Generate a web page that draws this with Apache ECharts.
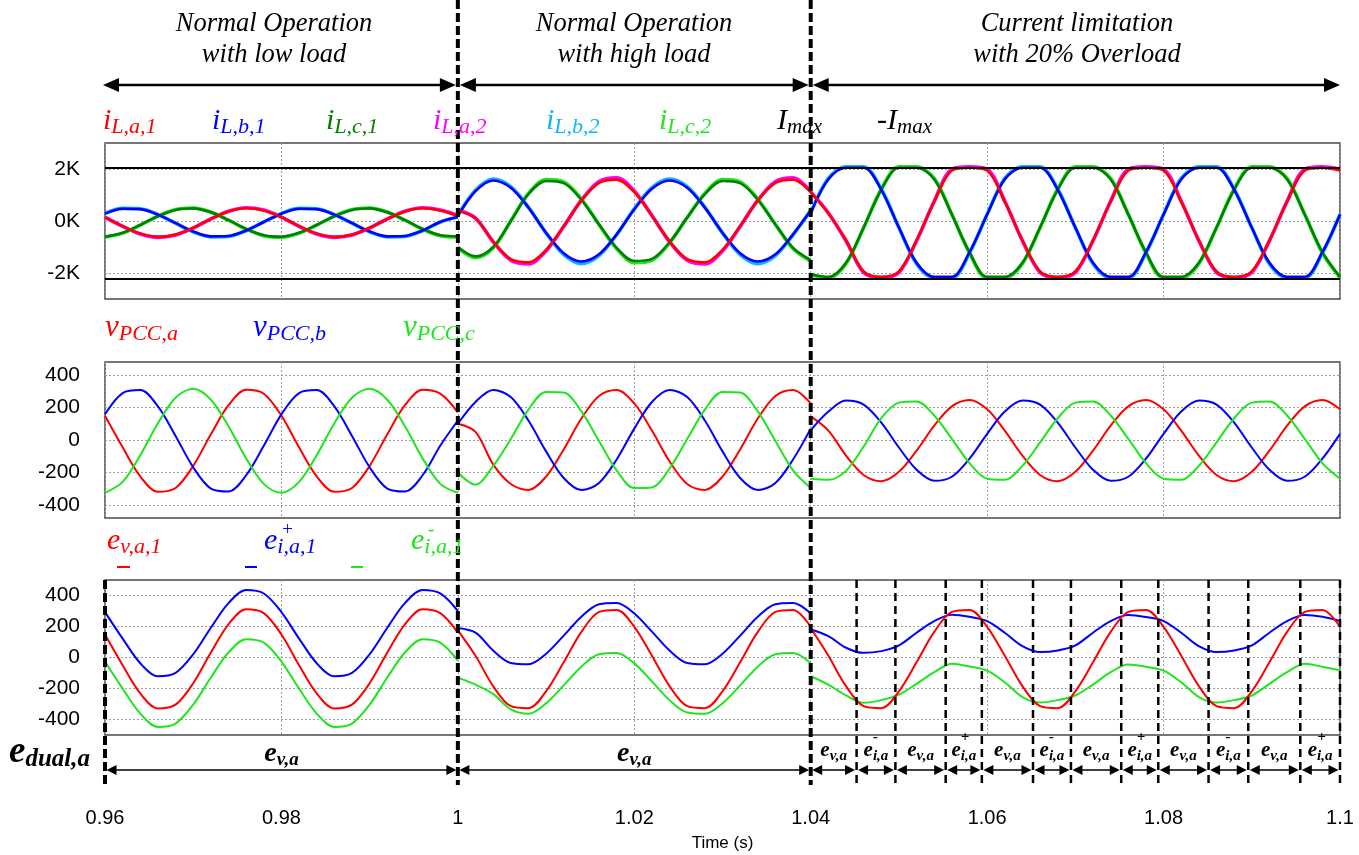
<!DOCTYPE html>
<html><head><meta charset="utf-8">
<script src="https://cdn.jsdelivr.net/npm/echarts@6/dist/echarts.min.js"></script>
<style>html,body{margin:0;padding:0;background:#fff}#c{width:1359px;height:855px}</style>
</head><body><div id="c"></div>
<script>
// ---------------- data ----------------
const time = [
0.96,0.962,0.964,0.966,0.968,0.97,0.972,0.974,0.976,0.978,0.98,0.982,0.984,0.986,0.988,0.99,0.992,0.994,0.996,0.998,1.0,
1.0,1.002,1.004,1.006,1.008,1.01,1.012,1.014,1.016,1.018,1.02,1.022,1.024,1.026,1.028,1.03,1.032,1.034,1.036,1.038,1.04,
1.04,1.042,1.044,1.046,1.048,1.05,1.052,1.054,1.056,1.058,1.06,1.062,1.064,1.066,1.068,1.07,1.072,1.074,1.076,1.078,1.08,1.082,1.084,1.086,1.088,1.09,1.092,1.094,1.096,1.098,1.1];

// panel 1: inverter currents (A)
const iLa1 = [
142,-197,-484,-609,-524,-262,77,364,489,404,142,-197,-484,-609,-524,-262,77,364,489,404,200,
400,100,-781,-1466,-1591,-1110,-203,781,1466,1591,1110,203,-781,-1466,-1591,-1110,-203,781,1466,1591,1110,
1100,300,-742,-1942,-2150,-1942,-742,742,1942,2050,1942,742,-742,-1942,-2150,-1942,-742,742,1942,2050,1942,742,-742,-1942,-2150,-1942,-742,742,1942,2050,1942];
const iLb1 = [
282,470,455,244,-83,-402,-590,-575,-364,-37,282,470,455,244,-83,-402,-590,-575,-364,-37,150,
200,1150,1560,1281,513,-451,-1243,-1560,-1281,-513,451,1243,1560,1281,513,-451,-1243,-1560,-1281,-513,400,
300,1606,2050,2050,1200,-252,-1606,-2150,-2150,-1200,252,1606,2050,2050,1200,-252,-1606,-2150,-2150,-1200,252,1606,2050,2050,1200,-252,-1606,-2150,-2150,-1200,252];
const iLc1 = [
-604,-453,-152,185,427,484,333,32,-305,-547,-604,-453,-152,185,427,484,333,32,-305,-547,-590,
-1000,-1360,-1000,0,1032,1539,1457,818,-133,-1032,-1539,-1457,-818,133,1032,1539,1457,818,-133,-1032,-1500,
-2050,-2150,-1606,-252,1200,2050,2050,1606,252,-1200,-2150,-2150,-1606,-252,1200,2050,2050,1606,252,-1200,-2150,-2150,-1606,-252,1200,2050,2050,1606,252,-1200,-2150];
const iLa2 = [
150,-205,-500,-630,-540,-270,80,378,510,420,150,-205,-500,-630,-540,-270,80,378,510,420,210,
420,110,-800,-1510,-1650,-1150,-210,800,1520,1660,1150,210,-800,-1510,-1650,-1150,-210,800,1520,1660,1130,
1120,310,-760,-1980,-2180,-1980,-760,760,1990,2080,1990,760,-760,-1980,-2180,-1980,-760,760,1990,2080,1990,760,-760,-1980,-2180,-1980,-760,760,1990,2080,1990];
const iLb2 = [
290,485,470,250,-85,-415,-610,-595,-375,-38,290,485,470,250,-85,-415,-610,-595,-375,-38,155,
210,1180,1610,1320,530,-465,-1290,-1640,-1330,-530,465,1285,1610,1320,530,-465,-1290,-1640,-1330,-530,410,
310,1640,2080,2080,1230,-260,-1650,-2190,-2190,-1230,260,1640,2080,2080,1230,-260,-1650,-2190,-2190,-1230,260,1640,2080,2080,1230,-260,-1650,-2190,-2190,-1230,260];
const iLc2 = [
-625,-468,-157,190,440,500,345,33,-315,-565,-625,-468,-157,190,440,500,345,33,-315,-565,-610,
-1030,-1410,-1040,0,1060,1590,1505,845,-137,-1065,-1600,-1510,-845,137,1060,1590,1505,845,-137,-1065,-1550,
-2080,-2190,-1640,-260,1230,2080,2080,1640,260,-1230,-2190,-2190,-1640,-260,1230,2080,2080,1640,260,-1230,-2190,-2190,-1640,-260,1230,2080,2080,1640,260,-1230,-2190];
const imaxLevels = [2040, -2220];

// panel 2: PCC voltages (V)
const vPCCa = [
149,-45,-224,-319,-295,-159,35,214,309,285,149,-45,-224,-319,-295,-159,35,214,309,285,170,
100,50,-150,-271,-307,-225,-58,132,271,307,225,58,-132,-271,-307,-225,-58,132,271,307,225,
145,58,-96,-215,-254,-196,-66,88,207,246,189,58,-96,-215,-254,-196,-66,88,207,246,189,58,-96,-215,-254,-196,-66,88,207,246,189];
const vPCCb = [
158,289,307,207,25,-168,-299,-317,-217,-35,158,289,307,207,25,-168,-299,-317,-217,-35,120,
100,234,308,264,120,-70,-234,-308,-264,-120,70,234,308,264,120,-70,-234,-308,-264,-120,70,
60,175,243,218,107,-46,-183,-251,-226,-115,38,175,243,218,107,-46,-183,-251,-226,-115,38,175,243,218,107,-46,-183,-251,-226,-115,38];
const vPCCc = [
-325,-258,-94,103,260,315,248,84,-113,-270,-325,-258,-94,103,260,315,248,84,-113,-270,-325,
-200,-275,-160,6,187,296,292,176,-6,-187,-296,-292,-176,6,187,296,292,176,-6,-187,-296,
-238,-245,-190,-40,134,230,237,151,7,-142,-238,-245,-159,-15,134,230,237,151,7,-142,-238,-245,-159,-15,134,230,237,151,7,-142,-238];

// panel 3: reference voltages (V)
const eVa1 = [
148,-50,-232,-329,-304,-166,32,214,311,286,148,-50,-232,-329,-304,-166,32,214,311,286,160,
175,11,-185,-314,-327,-218,-31,165,294,307,198,11,-185,-314,-327,-218,-31,165,294,307,198,
190,11,-185,-314,-327,-218,-31,165,294,307,198,11,-185,-314,-327,-218,-31,165,294,307,198,11,-185,-314,-327,-218,-31,165,294,307,198];
const eIPlus = [
293,122,-37,-121,-99,21,192,351,435,413,293,122,-37,-121,-99,21,192,351,435,413,300,
190,160,45,-36,-44,24,141,263,344,352,284,167,45,-36,-44,24,141,263,344,352,284,
181,138,63,30,41,78,160,235,276,263,235,160,73,35,45,78,160,235,274,261,235,160,73,35,45,78,160,235,274,263,235];
const eIMinus = [
-26,-201,-362,-448,-426,-304,-129,32,118,96,-26,-201,-362,-448,-426,-304,-129,32,118,96,-20,
-130,-175,-235,-335,-363,-296,-180,-59,21,29,-38,-154,-275,-355,-363,-296,-180,-59,21,29,-38,
-121,-175,-245,-292,-275,-240,-170,-95,-40,-58,-85,-160,-255,-290,-275,-245,-175,-95,-45,-60,-85,-160,-255,-290,-275,-245,-170,-95,-40,-60,-82];

// annotations
const modeBounds = [0.96, 1.0, 1.04, 1.1];
const modeTitles = ['Normal Operation\nwith low load', 'Normal Operation\nwith high load', 'Current limitation\nwith 20% Overload'];
const switchTimes = [1.0452, 1.0496, 1.0553, 1.0594, 1.0652, 1.0695, 1.0752, 1.0794, 1.0851, 1.0896, 1.0955];
const dualLabels = ['v','v','v','-','v','+','v','-','v','+','v','-','v','+'];
const yTicks1 = [-2000, 0, 2000];
const yTicks2 = [-400, -200, 0, 200, 400];
const yTicks3 = [-400, -200, 0, 200, 400];

// ---------------- chart ----------------
const SERIF = '"Liberation Serif","Times New Roman",serif';
const SANS = '"Liberation Sans",Arial,sans-serif';
const chart = echarts.init(document.getElementById('c'), null, {renderer: 'canvas', width: 1359, height: 855});

function pts(vals) {
  const out = [];
  for (let i = 0; i < time.length; i++) {
    if (i > 0 && time[i] === time[i - 1]) out.push([time[i], '-']);
    out.push([time[i], vals[i]]);
  }
  return out;
}
function ser(vals, color, w, gi, z, extra) {
  return Object.assign({type: 'line', xAxisIndex: gi, yAxisIndex: gi, data: pts(vals), symbol: 'none',
    showSymbol: false, smooth: 0.33, connectNulls: false, lineStyle: {color: color, width: w}, z: z,
    silent: true, animation: false}, extra || {});
}
const gridLine = {show: true, lineStyle: {color: '#a0a0a0', width: 1, type: [2, 2]}};
const gridBox = {left: 105, right: 19, show: true, borderColor: '#4a4a4a', borderWidth: 1.5, backgroundColor: 'transparent'};
function xAx(i) {
  const o = {type: 'value', gridIndex: i, min: 0.96, max: 1.1, interval: 0.02,
    axisLine: {show: false}, axisTick: {show: false}, splitLine: gridLine,
    axisLabel: {show: i === 2, margin: 73, fontSize: 20, fontFamily: SANS, color: '#000',
      formatter: v => String(+(+v).toFixed(2))}};
  if (i === 2) {
    o.name = 'Time (s)'; o.nameLocation = 'middle'; o.nameGap = 100;
    o.nameTextStyle = {fontSize: 17, fontFamily: SANS, color: '#000'};
  }
  return o;
}
function yAx(i, mn, mx, ticks, fmt) {
  return {type: 'value', gridIndex: i, min: mn, max: mx,
    axisLine: {show: false}, axisTick: {show: false, customValues: ticks}, splitLine: gridLine,
    axisLabel: {customValues: ticks, margin: 25, fontSize: 21, fontFamily: SANS, color: '#000', formatter: fmt}};
}

const option = {
  animation: false,
  backgroundColor: '#fff',
  grid: [
    Object.assign({top: 143, height: 156}, gridBox),
    Object.assign({top: 362, height: 156}, gridBox),
    Object.assign({top: 580, height: 155}, gridBox)
  ],
  xAxis: [xAx(0), xAx(1), xAx(2)],
  yAxis: [
    yAx(0, -3000, 3000, yTicks1, v => (v / 1000) + 'K'),
    yAx(1, -480, 480, yTicks2, v => String(v)),
    yAx(2, -500, 500, yTicks3, v => String(v))
  ],
  series: [
    ser(iLa2, '#ff00ff', 3.6, 0, 2),
    ser(iLb2, '#10b4ff', 3.6, 0, 2),
    ser(iLc2, '#22e622', 3.6, 0, 2),
    ser(iLc1, '#008000', 2.6, 0, 3),
    ser(iLb1, '#0000ff', 2.6, 0, 3),
    ser(iLa1, '#ff0000', 2.6, 0, 4, {markLine: {silent: true, symbol: 'none', animation: false,
      label: {show: false}, lineStyle: {color: '#000', width: 2, type: 'solid'},
      data: imaxLevels.map(v => ({yAxis: v}))}}),
    ser(vPCCa, '#ff0000', 2, 1, 3),
    ser(vPCCb, '#0000ff', 2, 1, 3),
    ser(vPCCc, '#1ee61e', 2, 1, 3),
    ser(eIMinus, '#1ee61e', 2, 2, 3),
    ser(eIPlus, '#0000ff', 2, 2, 3),
    ser(eVa1, '#ff0000', 2, 2, 4)
  ]
};
chart.setOption(option);

// ---------------- annotations (positions from the x scale) ----------------
const X = t => chart.convertToPixel({xAxisIndex: 2}, t);
const G = [];
function vline(x, y1, y2, w, dash) {
  G.push({type: 'line', z: 100, silent: true, shape: {x1: x, y1: y1, x2: x, y2: y2},
    style: {stroke: '#000', lineWidth: w, lineDash: dash}});
}
function dArrow(x1, x2, y, hl, hw, lw) {
  G.push({type: 'line', z: 100, silent: true, shape: {x1: x1 + hl * 0.8, y1: y, x2: x2 - hl * 0.8, y2: y}, style: {stroke: '#000', lineWidth: lw}});
  G.push({type: 'polygon', z: 100, silent: true, shape: {points: [[x1, y], [x1 + hl, y - hw], [x1 + hl, y + hw]]}, style: {fill: '#000'}});
  G.push({type: 'polygon', z: 100, silent: true, shape: {points: [[x2, y], [x2 - hl, y - hw], [x2 - hl, y + hw]]}, style: {fill: '#000'}});
}
function rtext(x, y, main, sub, color, fm, fs, weight, align) {
  G.push({type: 'text', z: 100, silent: true, x: x, y: y, style: {
    text: '{m|' + main + '}{s|' + sub + '}', align: align || 'left', verticalAlign: 'middle',
    rich: {
      m: {fontSize: fm, fontFamily: SERIF, fontStyle: 'italic', fontWeight: weight || 'normal', fill: color, lineHeight: fm + 4, verticalAlign: 'middle'},
      s: {fontSize: fs, fontFamily: SERIF, fontStyle: 'italic', fontWeight: weight || 'normal', fill: color, lineHeight: Math.round(fs * 0.9), verticalAlign: 'bottom'}
    }}});
}
function ptext(x, y, txt, color, fs, weight, align) {
  G.push({type: 'text', z: 100, silent: true, x: x, y: y, style: {text: txt, fill: color, fontSize: fs,
    fontFamily: SERIF, fontStyle: 'italic', fontWeight: weight || 'normal', align: align || 'left', verticalAlign: 'middle', lineHeight: 31}});
}

// vertical mode-change lines
vline(X(1.0), 0, 785, 4, [9, 4]);
vline(X(1.04), 0, 785, 4, [9, 4]);
vline(X(0.96), 580, 785, 4, [9, 4]);
switchTimes.concat([1.1]).forEach(t => vline(X(t), 580, 785, 2.5, [8, 5]));

// top titles and arrows
const titleX = [274, 634, 1077];
modeTitles.forEach((s, i) => ptext(titleX[i], 40, s, '#000', 26.5, 'normal', 'center'));
dArrow(X(modeBounds[0]) - 2, X(modeBounds[1]) - 2, 85, 16, 7, 2.5);
dArrow(X(modeBounds[1]) + 2, X(modeBounds[2]) - 2, 85, 16, 7, 2.5);
dArrow(X(modeBounds[2]) + 2, X(modeBounds[3]), 85, 16, 7, 2.5);

// legends panel 1
rtext(103, 121, 'i', 'L,a,1', '#ff0000', 30, 22);
rtext(212, 121, 'i', 'L,b,1', '#0000ff', 30, 22);
rtext(326, 121, 'i', 'L,c,1', '#008000', 30, 22);
rtext(433, 121, 'i', 'L,a,2', '#ff00ff', 30, 22);
rtext(546, 121, 'i', 'L,b,2', '#10b4ff', 30, 22);
rtext(659, 121, 'i', 'L,c,2', '#22e622', 30, 22);
rtext(777, 121, 'I', 'max', '#000', 30, 21);
rtext(877, 121, '-I', 'max', '#000', 30, 21);
// legends panel 2
rtext(105, 328, 'v', 'PCC,a', '#ff0000', 31, 22);
rtext(253, 328, 'v', 'PCC,b', '#0000ff', 31, 22);
rtext(403, 328, 'v', 'PCC,c', '#1ee61e', 31, 22);
// legends panel 3
rtext(107, 541, 'e', 'v,a,1', '#ff0000', 30, 22);
rtext(264, 541, 'e', 'i,a,1', '#0000ff', 30, 22);
ptext(281, 530, '+', '#0000ff', 19);
rtext(411, 541, 'e', 'i,a,1', '#1ee61e', 30, 22);
ptext(428, 530, '-', '#1ee61e', 19);
[[117, 130, '#ff0000'], [245, 257, '#0000ff'], [351, 363, '#1ee61e']].forEach(d =>
  G.push({type: 'line', z: 100, silent: true, shape: {x1: d[0], y1: 567, x2: d[1], y2: 567}, style: {stroke: d[2], lineWidth: 2}}));

// e_dual row
rtext(9, 752, 'e', 'dual,a', '#000', 37, 25, 'bold');
const bounds = [0.96, 1.0, 1.04].concat(switchTimes, [1.1]);
for (let i = 0; i < bounds.length - 1; i++) {
  const x1 = X(bounds[i]), x2 = X(bounds[i + 1]);
  dArrow(x1 + 1.5, x2 - 1.5, 770, 10, 5, 1.5);
  const mx = (x1 + x2) / 2;
  const big = i < 2;
  const lab = dualLabels[i];
  const y = big ? 754 : 751;
  if (lab === 'v') {
    rtext(mx, y, 'e', 'v,a', '#000', big ? 28 : 21, big ? 19 : 15, 'bold', 'center');
  } else {
    rtext(mx, y, 'e', 'i,a', '#000', 21, 15, 'bold', 'center');
    ptext(mx - 3, y - 14, lab, '#000', 15, 'bold', 'left');
  }
}

chart.setOption({graphic: {elements: G}});
</script>
</body></html>
